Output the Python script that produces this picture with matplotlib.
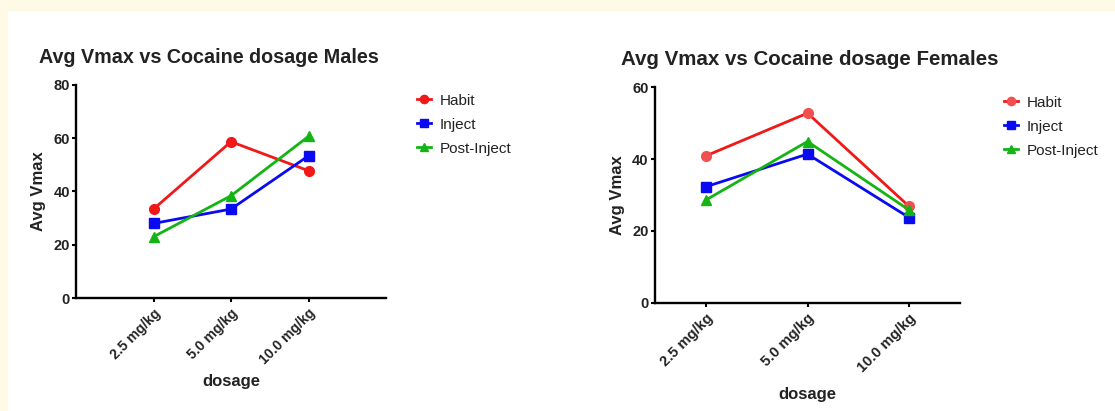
import matplotlib
matplotlib.use('Agg')
import matplotlib.pyplot as plt
import numpy as np

plt.rcParams['font.family'] = ['Liberation Sans', 'DejaVu Sans']

doses = ["2.5 mg/kg", "5.0 mg/kg", "10.0 mg/kg"]
series = ["Habit", "Inject", "Post-Inject"]

# Males
male_habit = [33.4, 58.7, 47.8]
male_inject = [28.0, 33.4, 53.4]
male_post = [23.0, 38.4, 60.7]

# Females
female_habit = [40.9, 52.8, 26.8]
female_inject = [32.3, 41.4, 23.7]
female_post = [28.6, 44.9, 25.8]

colors = ['#f01818', '#0a0af0', '#14b414']
markers = ['o', 's', '^']

fig = plt.figure(figsize=(11.15, 4.11), dpi=100)
fig.patch.set_facecolor('#fffae6')
# white panel behind the charts
panel = plt.Rectangle((8/1115, 0), 1, 1 - 11/411, transform=fig.transFigure,
                      facecolor='white', edgecolor='none', zorder=-10)
fig.add_artist(panel)

ax1 = fig.add_axes([76/1115, 1 - 298/411, 310/1115, 213/411])
ax2 = fig.add_axes([655/1115, 1 - 302.7/411, 305/1115, 215.4/411])


def style(ax, data, ymax, step, xlim, title, tsize, tx, xts, xlpad, leg_anchor, red):
    ax.set_facecolor('none')
    x = np.arange(len(doses))
    for i, (vals, name) in enumerate(zip(data, series)):
        c = colors[i]
        mfc = c
        if i == 0 and red is not None:
            mfc = red
        ax.plot(x, vals, color=c, marker=markers[i], markersize=7, lw=2,
                markerfacecolor=mfc, markeredgecolor=mfc, label=name, clip_on=False)
    ax.set_xlim(*xlim)
    ax.set_ylim(0, ymax)
    ax.set_yticks(np.arange(0, ymax + 1, step))
    ax.set_xticks(x)
    ax.set_xticklabels(doses, rotation=45, ha='right', rotation_mode='anchor',
                       fontsize=xts, fontweight='bold', color='#222222')
    for lab in ax.get_yticklabels():
        lab.set_fontweight('bold')
        lab.set_fontsize(10.5)
        lab.set_color('#222222')
    for s in ['top', 'right']:
        ax.spines[s].set_visible(False)
    for s in ['left', 'bottom']:
        ax.spines[s].set_linewidth(1.7)
    ax.tick_params(width=1.5, length=3, pad=1.5)
    ax.tick_params(axis='x', pad=3)
    ax.set_ylabel("Avg Vmax", fontsize=12, fontweight='bold', labelpad=5,
                  color='#222222')
    ax.set_xlabel("dosage", fontsize=12, fontweight='bold', labelpad=xlpad,
                  color='#222222')
    ax.set_title(title, fontsize=tsize, fontweight='bold', pad=16, loc='left',
                 x=tx, color='#222222')
    ax.legend(loc='upper left', bbox_to_anchor=leg_anchor, bbox_transform=fig.transFigure,
              frameon=False, fontsize=11, handlelength=0.9, labelspacing=0.65,
              handletextpad=0.6, labelcolor='#222222', markerscale=0.85)


style(ax1, [male_habit, male_inject, male_post], 80, 20, (-1, 3),
      "Avg Vmax vs Cocaine dosage Males", 14.2, -0.12, 10, 5,
      (403/1115, 1 - 80/411), None)
style(ax2, [female_habit, female_inject, female_post], 60, 20, (-0.5, 2.5),
      "Avg Vmax vs Cocaine dosage Females", 14.8, -0.11, 10.5, 9,
      (990/1115, 1 - 82/411), '#f05050')

fig.savefig('out.png', dpi=100, facecolor=fig.get_facecolor())
